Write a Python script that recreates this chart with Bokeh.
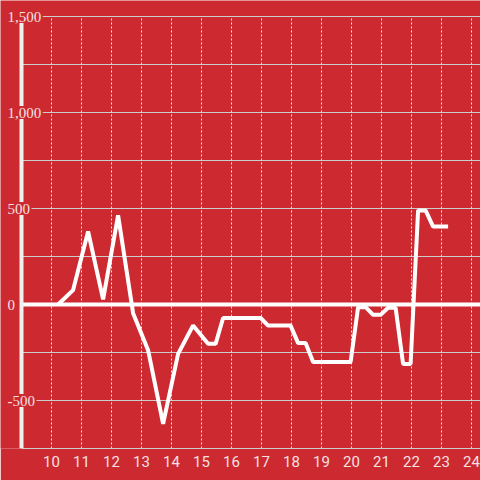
from bokeh.plotting import figure
from bokeh.models import Range1d, FixedTicker, LabelSet, ColumnDataSource
from bokeh.embed import file_html
from bokeh.resources import INLINE

# data: hour of day vs value
hours = [10.22, 10.72, 11.22, 11.72, 12.22, 12.72, 13.22, 13.72, 14.22, 14.72,
         15.22, 15.47, 15.72, 16.97, 17.22, 17.97, 18.22, 18.47, 18.72, 19.97,
         20.22, 20.47, 20.72, 20.97, 21.22, 21.47, 21.72, 21.97, 22.22, 22.47,
         22.72, 23.22]
values = [0, 75, 380, 27, 464, -45, -238, -621, -257, -109,
          -205, -205, -70, -70, -110, -110, -201, -201, -300, -300,
          -14, -14, -54, -54, -17, -17, -310, -310, 490, 490,
          406, 406]

x_ticks = list(range(10, 25))
y_grid_ticks = [-500, -250, 250, 500, 750, 1000, 1250, 1500]
y_label_ticks = [-500, 0, 500, 1000, 1500]
y_label_text = ["-500", "0", "500", "1,000", "1,500"]

RED = "#cc2a30"
TXT = "#f4e1e1"
FONT = "Roboto"

W, H = 480, 480
X_MIN, X_AXIS = 9, 9          # axis origin (hours)
Y_MIN, Y_MAX = -750, 1500
PX_X = 30.0                   # px per hour
AX_LEFT = 21                  # px of axis from figure left
FRAME_BOTTOM = 448
PX_Y = 432.0 / (Y_MAX - Y_MIN)
x_lo = X_AXIS - AX_LEFT / PX_X
x_hi = X_AXIS + (W - AX_LEFT) / PX_X
y_hi = Y_MIN + FRAME_BOTTOM / PX_Y

p = figure(width=W, height=H, output_backend="svg", toolbar_location=None,
           x_range=Range1d(x_lo, x_hi), y_range=Range1d(Y_MIN, y_hi),
           min_border_left=0, min_border_right=0, min_border_top=0,
           min_border_bottom=H - FRAME_BOTTOM)
p.background_fill_color = RED
p.border_fill_color = RED
p.outline_line_color = None
p.grid.visible = False
p.yaxis.visible = False

xa = p.xaxis[0]
xa.ticker = FixedTicker(ticks=x_ticks)
xa.bounds = (X_AXIS, x_hi)
xa.axis_line_color = "#cccccc"
xa.axis_line_width = 1
xa.major_tick_line_color = None
xa.minor_tick_line_color = None
xa.major_tick_out = 0
xa.major_tick_in = 0
xa.major_label_standoff = 7
xa.major_label_text_font = FONT
xa.major_label_text_font_size = "15px"
xa.major_label_text_color = TXT

# horizontal grid lines
p.segment(x0=[X_AXIS] * len(y_grid_ticks), x1=[x_hi] * len(y_grid_ticks),
          y0=y_grid_ticks, y1=y_grid_ticks, line_color="#cccccc", line_width=1)
# vertical dotted grid lines
p.segment(x0=x_ticks, x1=x_ticks, y0=[Y_MIN] * len(x_ticks), y1=[Y_MAX] * len(x_ticks),
          line_color="#e8e8e8", line_width=1, line_dash="2 2")
# zero line
p.segment(x0=[X_AXIS], x1=[x_hi], y0=[0], y1=[0], line_color="white", line_width=4)
# y axis line
p.segment(x0=[X_AXIS], x1=[X_AXIS], y0=[Y_MIN], y1=[Y_MAX], line_color="#f0f0f0", line_width=4)

p.line(hours, values, line_color="white", line_width=4)

src = ColumnDataSource(dict(x=[X_AXIS] * len(y_label_ticks), y=y_label_ticks, t=y_label_text))
labels = LabelSet(x="x", y="y", text="t", source=src, x_offset=-14,
                  text_align="left", text_baseline="middle",
                  text_font=FONT, text_font_size="15px", text_color=TXT,
                  background_fill_color=RED, border_line_color=RED,
                  border_line_width=3)
p.add_layout(labels)

open("out.html", "w").write(file_html(p, INLINE))
